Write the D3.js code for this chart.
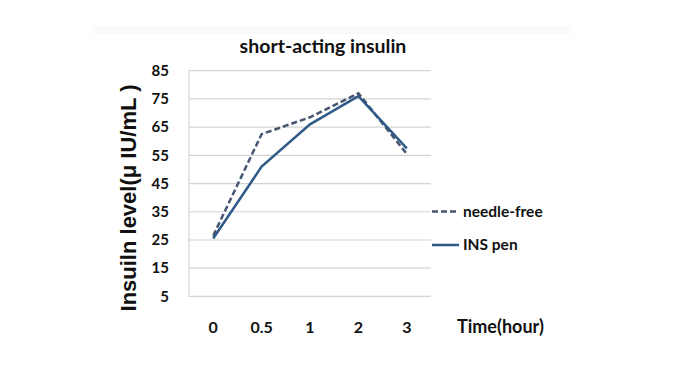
<!DOCTYPE html>
<html>
<head>
<meta charset="utf-8">
<script src="https://cdn.jsdelivr.net/npm/d3@7"></script>
<style>
  body { margin: 0; background: #fff; }
  svg text { font-family: Lato, "Open Sans", sans-serif; font-weight: bold; fill: #111; }
</style>
</head>
<body>
<div id="chart"></div>
<script>
// data
const times = ["0", "0.5", "1", "2", "3"];
const needleFree = [26.5, 62.5, 68.5, 77, 55.5];
const insPen = [25.5, 51, 66, 76, 57.5];
const yTicks = [5, 15, 25, 35, 45, 55, 65, 75, 85];

const width = 700, height = 367;
const plot = { left: 189, right: 431, top: 70.7, bottom: 296.4 };

const svg = d3.select("#chart").append("svg")
  .attr("width", width)
  .attr("height", height);

// faint band at the top of the image
svg.append("rect")
  .attr("x", 92).attr("y", 26).attr("width", 480).attr("height", 8)
  .attr("fill", "#fafafa");

const x = d3.scalePoint().domain(times).range([plot.left, plot.right]).padding(0.5);
const y = d3.scaleLinear().domain([5, 85]).range([plot.bottom, plot.top]);

// gridlines
svg.append("g")
  .selectAll("line")
  .data(yTicks)
  .join("line")
  .attr("x1", plot.left).attr("x2", plot.right)
  .attr("y1", d => y(d)).attr("y2", d => y(d))
  .attr("stroke", "#d4d4d4").attr("stroke-width", 1.2);

svg.append("line")
  .attr("x1", plot.left).attr("x2", plot.left)
  .attr("y1", plot.top).attr("y2", plot.bottom)
  .attr("stroke", "#d4d4d4").attr("stroke-width", 1.2);

// y tick labels
svg.append("g")
  .selectAll("text")
  .data(yTicks)
  .join("text")
  .attr("x", 169).attr("y", d => y(d))
  .attr("dy", "0.35em")
  .attr("text-anchor", "end")
  .attr("font-size", 15)
  .text(d => d);

// x tick labels
svg.append("g")
  .selectAll("text")
  .data(times)
  .join("text")
  .attr("x", d => x(d)).attr("y", 327)
  .attr("dy", "0.35em")
  .attr("text-anchor", "middle")
  .attr("font-size", 16)
  .text(d => d);

// title
svg.append("text")
  .attr("x", 323).attr("y", 53)
  .attr("text-anchor", "middle")
  .attr("font-size", 19.5)
  .text("short-acting insulin");

// y axis title
svg.append("text")
  .attr("transform", "translate(136,198) rotate(-90)")
  .attr("text-anchor", "middle")
  .attr("font-size", 22)
  .style("font-family", "Arial, 'Liberation Sans', sans-serif")
  .text("Insuiln level(μ IU/mL )");

// x axis title
svg.append("text")
  .attr("x", 457).attr("y", 327)
  .attr("dy", "0.35em")
  .attr("font-size", 18)
  .text("Time(hour)");

const line = d3.line()
  .x((d, i) => x(times[i]))
  .y(d => y(d));

svg.append("path")
  .datum(needleFree)
  .attr("d", line)
  .attr("fill", "none")
  .attr("stroke", "#46566f")
  .attr("stroke-width", 2.5)
  .attr("stroke-dasharray", "6,3");

svg.append("path")
  .datum(insPen)
  .attr("d", line)
  .attr("fill", "none")
  .attr("stroke", "#2f5a87")
  .attr("stroke-width", 2.5);

// legend
const legend = [
  { name: "needle-free", color: "#46566f", dash: "6,3", y: 211.5 },
  { name: "INS pen", color: "#2f5a87", dash: null, y: 245 }
];
const lg = svg.append("g")
  .selectAll("g")
  .data(legend)
  .join("g");
lg.append("line")
  .attr("x1", 432).attr("x2", 459)
  .attr("y1", d => d.y).attr("y2", d => d.y)
  .attr("stroke", d => d.color)
  .attr("stroke-width", 2.5)
  .attr("stroke-dasharray", d => d.dash);
lg.append("text")
  .attr("x", 463).attr("y", d => d.y)
  .attr("dy", "0.35em")
  .attr("font-size", 15.5)
  .text(d => d.name);
</script>
</body>
</html>
